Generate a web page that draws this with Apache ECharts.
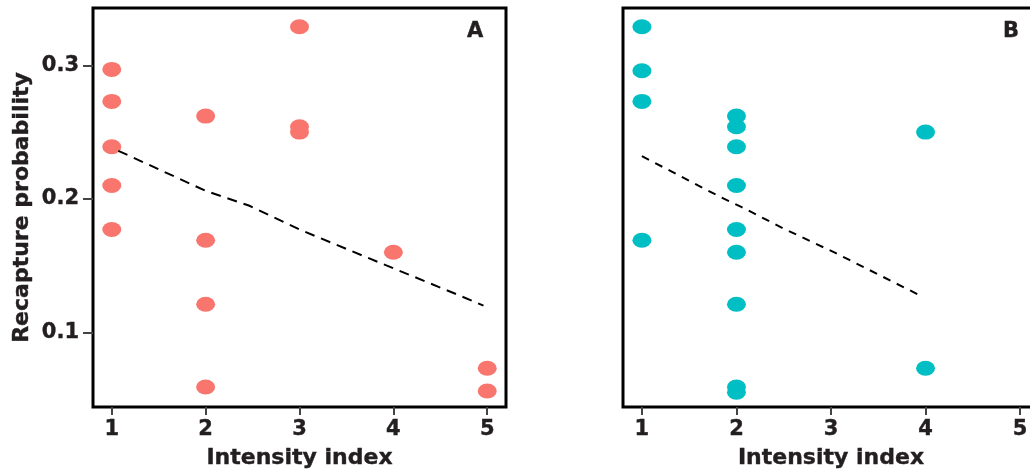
<!DOCTYPE html>
<html>
<head>
<meta charset="utf-8">
<script src="https://cdn.jsdelivr.net/npm/echarts@6/dist/echarts.min.js"></script>
<style>
  html, body { margin: 0; padding: 0; background: #fff; }
  #chart { width: 1030px; height: 474px; }
</style>
</head>
<body>
<div id="chart"></div>
<script>
// tick labels
var xTicks = [1, 2, 3, 4, 5];
var yTicks = [0.1, 0.2, 0.3];

// panel A: points (intensity index, recapture probability)
var aX = [1, 1, 1, 1, 1, 2, 2, 2, 2, 3, 3, 3, 4, 5, 5];
var aY = [0.297, 0.273, 0.239, 0.210, 0.177, 0.262, 0.169, 0.121, 0.059, 0.329, 0.254, 0.250, 0.160, 0.073, 0.056];
// panel A: dashed trend
var aTrendX = [1.07, 2.0, 2.46, 3.0, 3.86, 4.69, 4.96];
var aTrendY = [0.236, 0.206, 0.195, 0.177, 0.152, 0.128, 0.120];

// panel B
var bX = [1, 1, 1, 1, 2, 2, 2, 2, 2, 2, 2, 2, 2, 4, 4];
var bY = [0.329, 0.296, 0.273, 0.169, 0.262, 0.254, 0.239, 0.210, 0.177, 0.160, 0.121, 0.059, 0.055, 0.250, 0.073];
var bTrendX = [1.0, 1.84, 2.05, 2.49, 3.03, 3.2, 3.93];
var bTrendY = [0.232, 0.201, 0.194, 0.178, 0.160, 0.154, 0.128];

var labelFont = "DejaVu Sans";
var ink = "#231f20";
var ellipse = "path://M0,10a10,10 0 1,0 20,0a10,10 0 1,0 -20,0z";

function pairs(xs, ys) {
  return xs.map(function (x, i) { return [x, ys[i]]; });
}

// bold text with a faint stroke, the figure uses a very heavy face
function heavy(size) {
  return {
    fontFamily: labelFont, fontWeight: "bold", fontSize: size, color: ink,
    textBorderColor: ink, textBorderWidth: 0.4
  };
}

function xAxisOf(idx) {
  return {
    type: "value",
    gridIndex: idx,
    min: 0.8,
    max: 5.2,
    splitLine: { show: false },
    axisLine: { show: false },
    axisTick: { show: true, length: 8, customValues: xTicks, lineStyle: { color: "#444", width: 2 } },
    axisLabel: Object.assign({ customValues: xTicks, margin: 12 }, heavy(21)),
    name: "Intensity index",
    nameLocation: "middle",
    nameGap: 40,
    nameTextStyle: heavy(22)
  };
}

function yAxisOf(idx, withLabels) {
  return {
    type: "value",
    gridIndex: idx,
    min: 0.044,
    max: 0.343,
    splitLine: { show: false },
    axisLine: { show: false },
    axisTick: { show: withLabels, length: 10, customValues: yTicks, lineStyle: { color: "#444", width: 2 } },
    axisLabel: Object.assign({ show: withLabels, customValues: yTicks, margin: 14 }, heavy(21)),
    name: withLabels ? "Recapture probability" : "",
    nameLocation: "middle",
    nameGap: 60,
    nameTextStyle: heavy(22)
  };
}

var chart = echarts.init(document.getElementById("chart"));
chart.setOption({
  animation: false,
  backgroundColor: "#fff",
  title: [
    { text: "A", left: 467, top: 21, padding: 0, textStyle: heavy(21) },
    { text: "B", left: 1003, top: 21, padding: 0, textStyle: heavy(21) }
  ],
  grid: [
    { left: 93, top: 8, width: 413, height: 399, outerBoundsMode: "none",
      show: true, borderColor: "#000", borderWidth: 3 },
    // panel B runs past the right edge of the picture
    { left: 623, top: 8, width: 416, height: 399, outerBoundsMode: "none",
      show: true, borderColor: "#000", borderWidth: 3 }
  ],
  xAxis: [xAxisOf(0), xAxisOf(1)],
  yAxis: [yAxisOf(0, true), yAxisOf(1, false)],
  series: [
    {
      type: "line", xAxisIndex: 0, yAxisIndex: 0,
      data: pairs(aTrendX, aTrendY), showSymbol: false,
      lineStyle: { color: "#000", width: 2, type: [10, 7] }
    },
    {
      type: "scatter", xAxisIndex: 0, yAxisIndex: 0,
      data: pairs(aX, aY), symbol: ellipse, symbolSize: [19, 15],
      itemStyle: { color: "#F8766D", opacity: 1 }
    },
    {
      type: "line", xAxisIndex: 1, yAxisIndex: 1,
      data: pairs(bTrendX, bTrendY), showSymbol: false,
      lineStyle: { color: "#000", width: 2, type: [8, 7] }
    },
    {
      type: "scatter", xAxisIndex: 1, yAxisIndex: 1,
      data: pairs(bX, bY), symbol: ellipse, symbolSize: [19, 15],
      itemStyle: { color: "#00BFC4", opacity: 1 }
    }
  ]
});
</script>
</body>
</html>
